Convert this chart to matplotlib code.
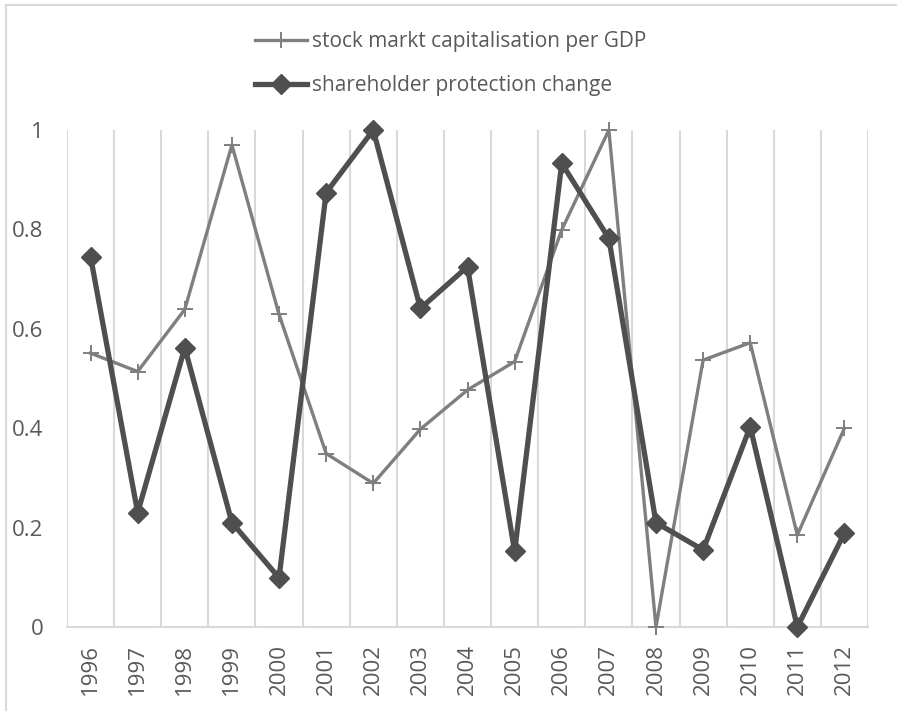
import matplotlib
matplotlib.use("Agg")
import matplotlib.pyplot as plt
from matplotlib.lines import Line2D

plt.rcParams['font.family'] = ['Open Sans', 'DejaVu Sans']

years = [str(y) for y in range(1996, 2013)]
stock_cap = [0.551, 0.514, 0.639, 0.970, 0.629, 0.349, 0.289, 0.398, 0.477,
             0.534, 0.799, 1.0, 0.0, 0.537, 0.572, 0.185, 0.400]
protection = [0.745, 0.230, 0.562, 0.210, 0.099, 0.874, 1.0, 0.641, 0.725,
              0.152, 0.933, 0.782, 0.210, 0.155, 0.403, 0.0, 0.189]
yticks = [0, 0.2, 0.4, 0.6, 0.8, 1]
ytick_labels = ['0', '0.2', '0.4', '0.6', '0.8', '1']

W, H = 897, 711
fig = plt.figure(figsize=(W / 100, H / 100), dpi=100)
ax = fig.add_axes([67 / W, 1 - 627 / H, 801 / W, 497 / H])

x = list(range(len(years)))
l1, = ax.plot(x, stock_cap, color='#7f7f7f', lw=2.4, marker='+', ms=11, mew=1.4,
              label='stock markt capitalisation per GDP', clip_on=False, zorder=3)
l2, = ax.plot(x, protection, color='#4f4f4f', lw=3.8, marker='D', ms=10,
              label='shareholder protection change', clip_on=False, zorder=4)

ax.set_xlim(-0.5, len(years) - 0.5)
ax.set_ylim(0, 1)
ax.set_xticks(x)
ax.set_xticklabels(years, rotation=90)
ax.set_yticks(yticks)
ax.set_yticklabels(ytick_labels)
ax.set_xticks([i + 0.5 for i in range(-1, len(years))], minor=True)
ax.grid(True, which='minor', axis='x', color='#d9d9d9', lw=1.5)
ax.tick_params(which='both', length=0)
ax.tick_params(axis='y', pad=17, labelsize=16, labelcolor='#595959')
ax.tick_params(axis='x', pad=12, labelsize=16, labelcolor='#595959')
for side in ['top', 'right', 'left']:
    ax.spines[side].set_visible(False)
ax.spines['bottom'].set_color('#d9d9d9')
ax.spines['bottom'].set_linewidth(1.5)

fig.legend(handles=[l1, l2], loc='upper left', bbox_to_anchor=(255 / W, 1 - 31 / H),
           frameon=False, fontsize=15, handlelength=2.5, handletextpad=0.25,
           labelspacing=1.1, borderpad=0, borderaxespad=0, labelcolor='#595959')

# outer chart frame (only left and top edges visible)
fig.add_artist(Line2D([6 / W, 6 / W], [0, 1 - 5 / H], color='#d9d9d9', lw=1.5))
fig.add_artist(Line2D([6 / W, 1], [1 - 5 / H, 1 - 5 / H], color='#d9d9d9', lw=1.5))

fig.savefig('out.png', dpi=100)
